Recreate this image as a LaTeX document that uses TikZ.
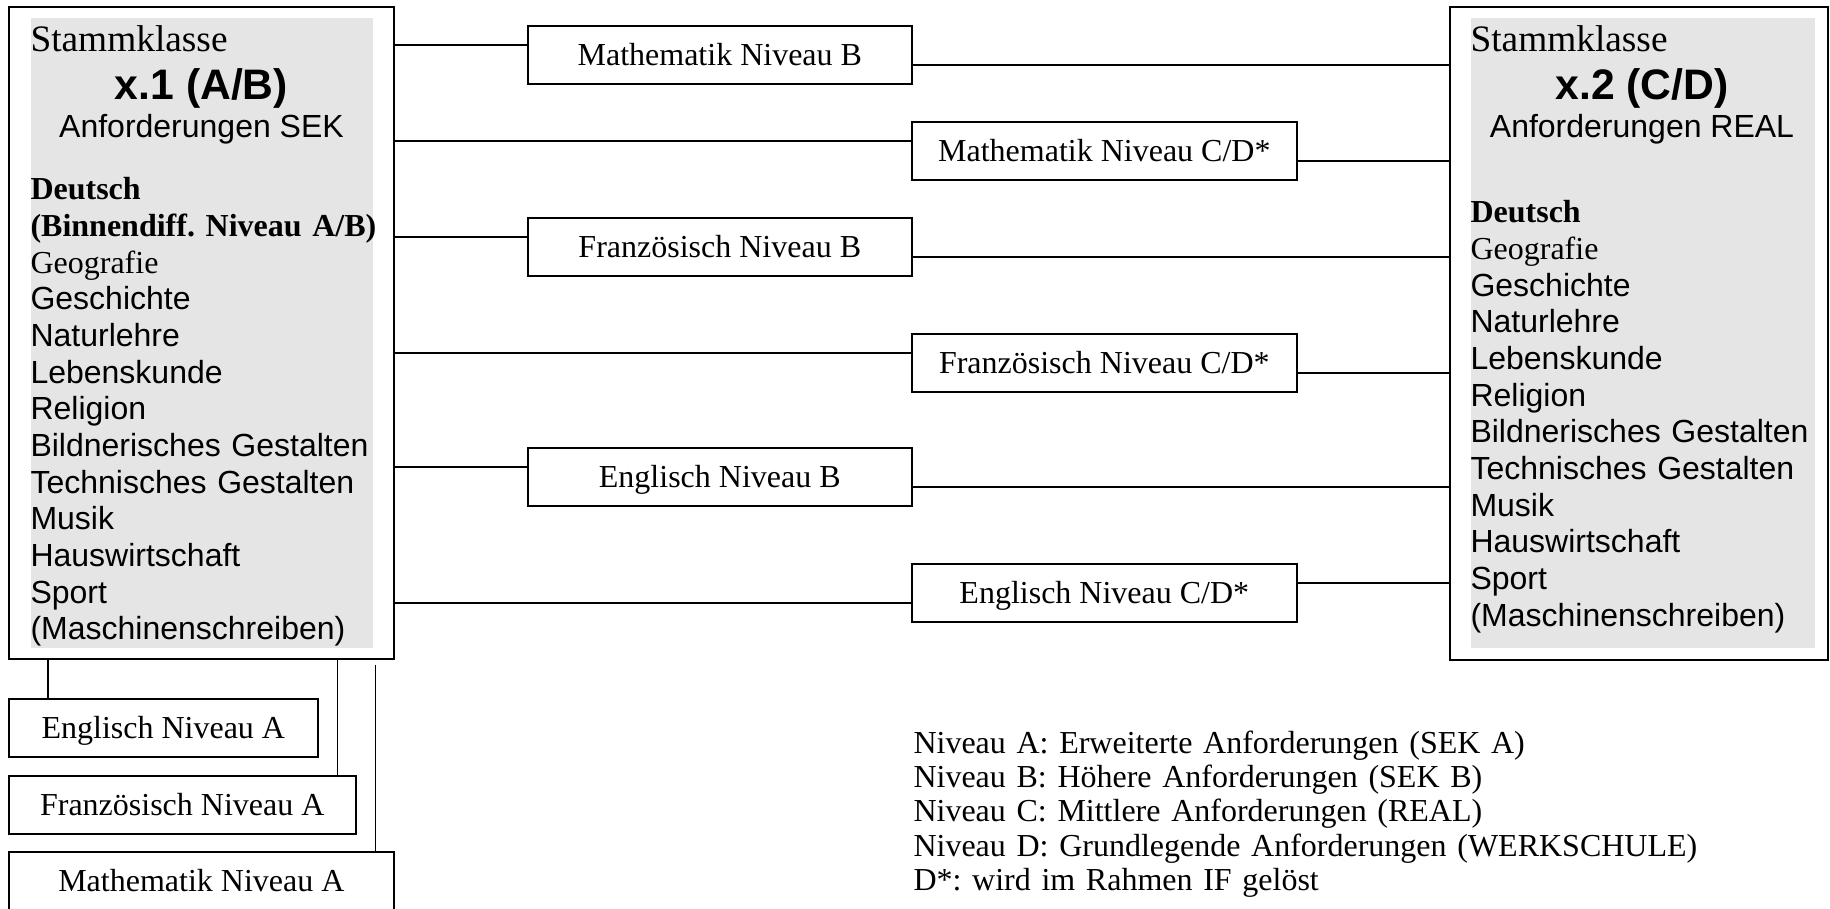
\documentclass[tikz,border=0pt]{standalone}
\usepackage{fontspec}
\setmainfont{Liberation Serif}
\setsansfont{Liberation Sans}
\usepackage{xcolor}
\usetikzlibrary{calc}

\definecolor{listgrey}{RGB}{229,229,229}
\frenchspacing

\begin{document}
\begin{tikzpicture}[
    x=0.375pt,
    y=-0.375pt,
    classbox/.style={
        rectangle,
        draw,
        line width=0.8pt,
        anchor=north west,
        inner sep=0pt
    },
    greyfield/.style={
        rectangle,
        fill=listgrey,
        anchor=north west,
        inner sep=0pt
    },
    headline/.style={
        inner sep=0pt,
        font=\sffamily\fontsize{12}{14}\selectfont
    },
    subjects/.style={
        anchor=base west,
        align=left,
        text width=140pt,
        inner sep=0pt,
        font=\fontsize{12}{13.75}\selectfont
    },
    levelbox/.style={
        rectangle,
        draw,
        line width=0.6pt,
        anchor=north west,
        minimum height=21.75pt,
        inner sep=0pt,
        text height=10.5pt,
        text depth=2.3pt,
        font=\fontsize{12}{14}\selectfont
    },
    link/.style={
        line width=0.6pt
    }
]

\useasboundingbox (0,0) rectangle (1830,909);

% =========================
% Stammklasse x.1
% =========================

\node[classbox, minimum width=144.4pt, minimum height=244.5pt] (stammA) at (8,6) {};
\node[greyfield, minimum width=128.6pt, minimum height=236.6pt] (greyA) at (30,17) {};

\node[anchor=base west, inner sep=0pt, font=\fontsize{14}{16}\selectfont] (headA) at (30,52)
{Stammklasse};
\node[headline, anchor=base, font=\sffamily\bfseries\fontsize{16}{18}\selectfont] (nameA) at (201.5,100)
{x.1 (A/B)};
\node[headline, anchor=base] (levelA) at (201.5,138)
{Anforderungen SEK};

\node[subjects] (listA) at (30,200)
{\textbf{Deutsch}\\\textbf{(Binnendiff. Niveau A/B)}\\Geografie\\\sffamily Geschichte\\Naturlehre\\Lebenskunde\\Religion\\Bildnerisches Gestalten\\Technisches Gestalten\\Musik\\Hauswirtschaft\\Sport\\(Maschinenschreiben)};

% =========================
% Stammklasse x.2
% =========================

\node[classbox, minimum width=141.75pt, minimum height=244.9pt] (stammB) at (1449,6) {};
\node[greyfield, minimum width=129pt, minimum height=236.6pt] (greyB) at (1470,17) {};

\node[anchor=base west, inner sep=0pt, font=\fontsize{14}{16}\selectfont] (headB) at (1470,52)
{Stammklasse};
\node[headline, anchor=base, font=\sffamily\bfseries\fontsize{16}{18}\selectfont] (nameB) at (1642,100)
{x.2 (C/D)};
\node[headline, anchor=base] (levelB) at (1642,138)
{Anforderungen REAL};

\node[subjects] (listB) at (1470,223)
{\textbf{Deutsch}\\Geografie\\\sffamily Geschichte\\Naturlehre\\Lebenskunde\\Religion\\Bildnerisches Gestalten\\Technisches Gestalten\\Musik\\Hauswirtschaft\\Sport\\(Maschinenschreiben)};

% =========================
% Niveau courses
% =========================

\node[levelbox, minimum width=144pt] (mathB) at (527,25) {Mathematik Niveau B};
\node[levelbox, minimum width=144.4pt] (mathCD) at (911,121) {Mathematik Niveau C/D*};
\node[levelbox, minimum width=144pt] (frzB) at (527,217) {Französisch Niveau B};
\node[levelbox, minimum width=144.4pt] (frzCD) at (911,333) {Französisch Niveau C/D*};
\node[levelbox, minimum width=144pt] (engB) at (527,447) {Englisch Niveau B};
\node[levelbox, minimum width=144.4pt] (engCD) at (911,563) {Englisch Niveau C/D*};

\node[levelbox, minimum width=115.9pt] (engA) at (8,698) {Englisch Niveau A};
\node[levelbox, minimum width=130.1pt] (frzA) at (8,775) {Französisch Niveau A};
\node[levelbox, minimum width=144.4pt] (mathA) at (8,851) {Mathematik Niveau A};

% =========================
% Legend
% =========================

\node[anchor=base west, align=left, text width=300pt, inner sep=0pt, font=\fontsize{12}{12.9}\selectfont] (legend) at (913,753)
{Niveau A: Erweiterte Anforderungen (SEK A)\\Niveau B: Höhere Anforderungen (SEK B)\\Niveau C: Mittlere Anforderungen (REAL)\\Niveau D: Grundlegende Anforderungen (WERKSCHULE)\\D*: wird im Rahmen IF gelöst};

% =========================
% Connections
% =========================

\coordinate (mathB-in) at ($(mathB.west)+(0,-10)$);
\coordinate (mathB-out) at ($(mathB.east)+(0,10)$);
\coordinate (mathCD-in) at ($(mathCD.west)+(0,-10)$);
\coordinate (mathCD-out) at ($(mathCD.east)+(0,10)$);
\coordinate (frzB-in) at ($(frzB.west)+(0,-10)$);
\coordinate (frzB-out) at ($(frzB.east)+(0,10)$);
\coordinate (frzCD-in) at ($(frzCD.west)+(0,-10)$);
\coordinate (frzCD-out) at ($(frzCD.east)+(0,10)$);
\coordinate (engB-in) at ($(engB.west)+(0,-10)$);
\coordinate (engB-out) at ($(engB.east)+(0,10)$);
\coordinate (engCD-in) at ($(engCD.west)+(0,10)$);
\coordinate (engCD-out) at ($(engCD.east)+(0,-10)$);

\draw[link] (stammA.east |- mathB-in) -- (mathB-in);
\draw[link] (mathB-out) -- (mathB-out -| stammB.west);

\draw[link] (stammA.east |- mathCD-in) -- (mathCD-in);
\draw[link] (mathCD-out) -- (mathCD-out -| stammB.west);

\draw[link] (stammA.east |- frzB-in) -- (frzB-in);
\draw[link] (frzB-out) -- (frzB-out -| stammB.west);

\draw[link] (stammA.east |- frzCD-in) -- (frzCD-in);
\draw[link] (frzCD-out) -- (frzCD-out -| stammB.west);

\draw[link] (stammA.east |- engB-in) -- (engB-in);
\draw[link] (engB-out) -- (engB-out -| stammB.west);

\draw[link] (stammA.east |- engCD-in) -- (engCD-in);
\draw[link] (engCD-out) -- (engCD-out -| stammB.west);

% Niveau A below x.1
\coordinate (engA-in) at ($(engA.north west)+(40,0)$);
\coordinate (frzA-in) at ($(frzA.north east)+(-19,0)$);
\coordinate (mathA-in) at ($(mathA.north east)+(-19,0)$);

\draw[link] (engA-in |- stammA.south) -- (engA-in);
\draw[link] (frzA-in |- stammA.south) -- (frzA-in);
\draw[link] ($(mathA-in |- stammA.south)+(0,5)$) -- (mathA-in);

\end{tikzpicture}
\end{document}
